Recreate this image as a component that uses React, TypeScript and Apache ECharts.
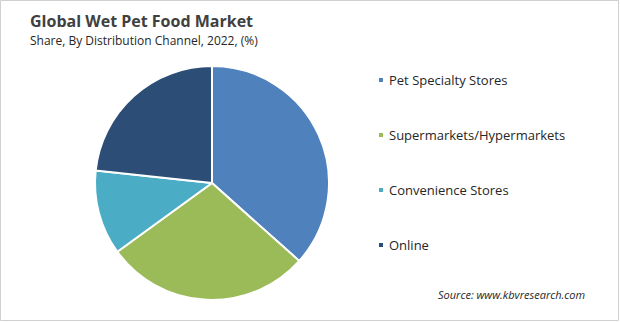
import React, { useEffect, useRef } from "react";
import * as echarts from "echarts";

const categories = ["Pet Specialty Stores", "Supermarkets/Hypermarkets", "Convenience Stores", "Online"];
const shares = [36.6, 28.4, 11.7, 23.3];
const colors = ["#4f81bd", "#9bbb59", "#4bacc6", "#2c4d75"];

export default function App() {
  const ref = useRef<HTMLDivElement>(null);
  useEffect(() => {
    document.body.style.margin = "0";
    const chart = echarts.init(ref.current!, undefined, { renderer: "svg" });
    chart.setOption({
      animation: false,
      backgroundColor: "#ffffff",
      color: colors,
      title: {
        text: "Global Wet Pet Food Market",
        subtext: "Share, By Distribution Channel, 2022, (%)",
        left: 25,
        top: 8,
        itemGap: 5,
        textStyle: { fontFamily: "Open Sans", fontSize: 16, fontWeight: "bold", color: "#404040" },
        subtextStyle: { fontFamily: "Open Sans", fontSize: 12, color: "#262626" },
      },
      legend: {
        orient: "vertical",
        left: 372,
        top: 67,
        icon: "rect",
        itemWidth: 6,
        itemHeight: 6,
        itemGap: 39,
        textStyle: { fontFamily: "Open Sans", fontSize: 13, color: "#262626", lineHeight: 16 },
        data: categories,
      },
      graphic: [
        {
          type: "rect",
          shape: { x: 0.5, y: 0.5, width: 618, height: 320 },
          style: { fill: "none", stroke: "#d0d0d0", lineWidth: 1 },
        },
        {
          type: "text",
          left: 438,
          top: 289,
          style: {
            text: "Source: www.kbvresearch.com",
            font: "italic 11px 'Open Sans'",
            fill: "#262626",
          },
        },
      ],
      series: [
        {
          type: "pie",
          center: [212, 183],
          radius: 117,
          startAngle: 90,
          clockwise: true,
          label: { show: false },
          labelLine: { show: false },
          itemStyle: { borderColor: "#ffffff", borderWidth: 2 },
          data: categories.map((name, i) => ({ name, value: shares[i] })),
        },
      ],
    });
    return () => chart.dispose();
  }, []);
  return <div ref={ref} style={{ position: "absolute", left: 0, top: 0, width: 620, height: 322 }} />;
}
